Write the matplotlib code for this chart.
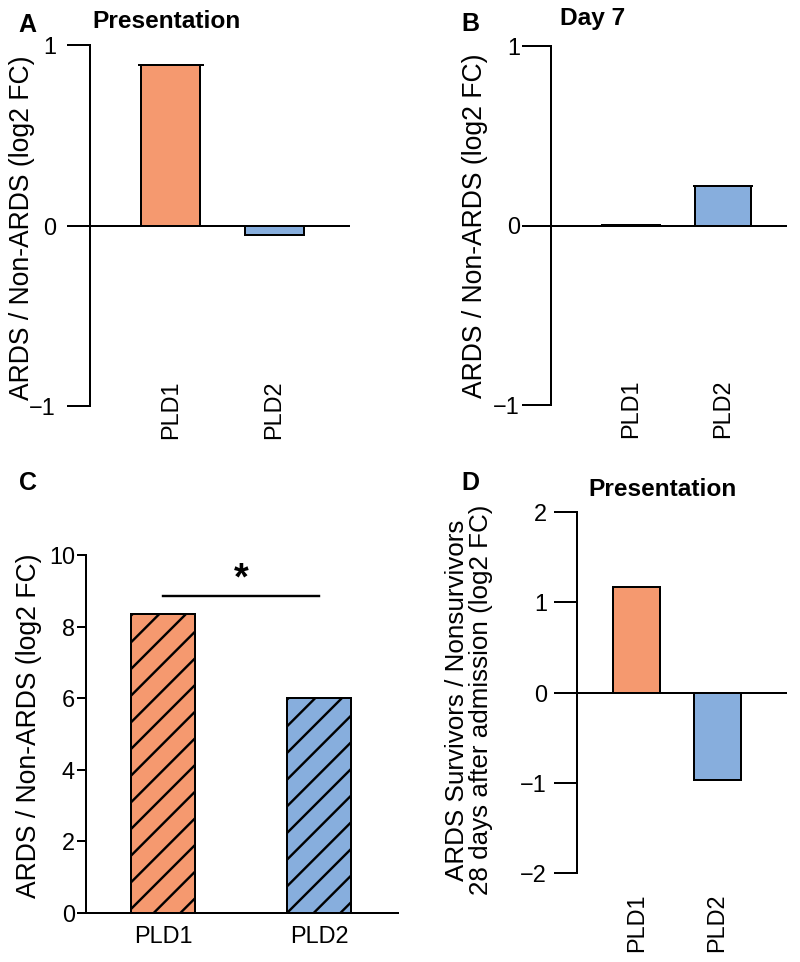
import matplotlib
matplotlib.use("Agg")
import matplotlib.pyplot as plt
import numpy as np

# ---------------- data ----------------
categories = ["PLD1", "PLD2"]
a_values = [0.89, -0.05]      # Presentation, ARDS / Non-ARDS
a_err = [0.0, 0.0]
b_values = [0.005, 0.22]      # Day 7, ARDS / Non-ARDS
b_err = [0.0, 0.0]
c_values = [8.35, 6.0]        # ARDS / Non-ARDS
c_sig_level = 8.85            # significance bracket height
c_sig_text = "*"
d_values = [1.17, -0.97]      # Survivors / Nonsurvivors
bar_colors = ["#F5996F", "#87AEDD"]

# ---------------- setup ----------------
DPI = 160
W, H = 800, 962
PT = 72 / DPI  # points per pixel

plt.rcParams['font.family'] = ['Liberation Sans', 'DejaVu Sans']
plt.rcParams['hatch.linewidth'] = 2.4 * PT
plt.rcParams['hatch.color'] = 'black'

fig = plt.figure(figsize=(W / DPI, H / DPI), dpi=DPI)

LW = 2.0 * PT
TICK_FS = 23.5 * PT
LAB_FS = 26.5 * PT
TITLE_FS = 24.5 * PT
LETTER_FS = 25 * PT


def add_ax(x0, y0, x1, y1):
    return fig.add_axes([x0 / W, 1 - y1 / H, (x1 - x0) / W, (y1 - y0) / H])


def ftext(x, y, s, **kw):
    return fig.text(x / W, 1 - y / H, s, **kw)


def xlims(x0, x1, c0, c1):
    unit = c1 - c0
    return (-(c0 - x0) / unit, 1 + (x1 - c1) / unit), unit


def panel(rect, centers, bar_px, values, ylim, yticks, ticklen, tickpad,
          xpad, rotate=True, errs=None, hatch=None, zero_line=True, caps_px=0):
    x0, y0, x1, y1 = rect
    ax = add_ax(x0, y0, x1, y1)
    xl, unit = xlims(x0, x1, centers[0], centers[1])
    x = np.arange(len(categories))
    ax.bar(x, values, width=bar_px / unit, color=bar_colors, edgecolor='black',
           linewidth=LW, hatch=hatch, zorder=3)
    if errs is not None:
        vals = np.array(values)
        e = np.array(errs)
        pos = vals > 0
        ax.errorbar(x[pos], vals[pos], yerr=e[pos], fmt='none', ecolor='black',
                    elinewidth=LW, capsize=caps_px * PT, capthick=LW, zorder=4)
    ax.set_xlim(*xl)
    ax.set_ylim(*ylim)
    for s in ['top', 'right', 'bottom']:
        ax.spines[s].set_visible(False)
    ax.spines['left'].set_linewidth(LW)
    ax.spines['left'].set_bounds(ylim[0], ylim[1])
    if zero_line:
        ax.axhline(0, color='black', linewidth=LW, zorder=2)
    ax.set_yticks(yticks)
    ax.tick_params(axis='y', length=ticklen * PT, width=LW, pad=tickpad * PT,
                   labelsize=TICK_FS, direction='out')
    ax.set_xticks(x)
    ax.set_xticklabels(categories, rotation=90 if rotate else 0)
    ax.tick_params(axis='x', length=0, pad=xpad * PT, labelsize=TICK_FS)
    ax.patch.set_alpha(0)
    return ax


# ---------------- Panel A ----------------
axA = panel((90, 45, 350, 406), (170.5, 274), 59, a_values, (-1, 1), [-1, 0, 1],
            23, 11, -26, errs=a_err, caps_px=33)
ftext(27, 25, "A", fontsize=LETTER_FS, fontweight='bold', ha='center', va='center')
ftext(166, 21, "Presentation", fontsize=TITLE_FS, fontweight='bold', ha='center', va='center')
ftext(22, 228, "ARDS / Non-ARDS (log2 FC)", fontsize=LAB_FS, rotation=90,
      ha='center', va='center')

# ---------------- Panel B ----------------
axB = panel((551, 46, 787, 405), (631, 722.5), 56, b_values, (-1, 1), [-1, 0, 1],
            29, 2, -25, errs=b_err, caps_px=30)
ftext(470, 24, "B", fontsize=LETTER_FS, fontweight='bold', ha='center', va='center')
ftext(593, 18, "Day 7", fontsize=TITLE_FS, fontweight='bold', ha='center', va='center')
ftext(475, 226, "ARDS / Non-ARDS (log2 FC)", fontsize=LAB_FS, rotation=90,
      ha='center', va='center')

# ---------------- Panel C ----------------
axC = panel((86, 555, 398, 913), (163, 319), 64, c_values, (0, 10),
            [0, 2, 4, 6, 8, 10], 9, 2, 12, rotate=False, hatch='//', zero_line=False)
axC.spines['bottom'].set_visible(True)
axC.spines['bottom'].set_linewidth(LW)
axC.plot([0, 1], [c_sig_level, c_sig_level], color='black', linewidth=LW * 1.2,
         clip_on=False)
axC.text(0.5, c_sig_level - 0.05, c_sig_text, fontsize=38 * PT, fontweight='bold',
         ha='center', va='bottom')
ftext(28, 483, "C", fontsize=LETTER_FS, fontweight='bold', ha='center', va='center')
ftext(29, 726, "ARDS / Non-ARDS (log2 FC)", fontsize=LAB_FS, rotation=90,
      ha='center', va='center')

# ---------------- Panel D ----------------
axD = panel((577, 512, 787, 873), (636.5, 717), 47, d_values, (-2, 2),
            [-2, -1, 0, 1, 2], 23, 7, 20)
ftext(470, 483, "D", fontsize=LETTER_FS, fontweight='bold', ha='center', va='center')
ftext(663, 490, "Presentation", fontsize=TITLE_FS, fontweight='bold', ha='center', va='center')
ftext(469, 700, "ARDS Survivors / Nonsurvivors\n28 days after admission (log2 FC)",
      fontsize=LAB_FS * 0.98, rotation=90, ha='center', va='center', linespacing=1.05,
      multialignment='center')

fig.savefig("out.png", dpi=DPI)
